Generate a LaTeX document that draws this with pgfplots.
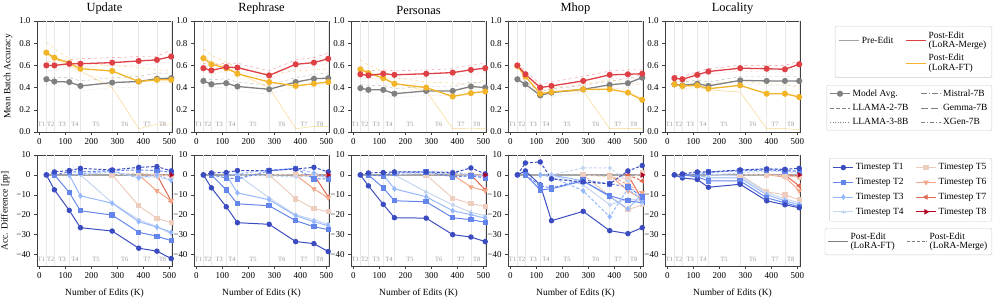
\documentclass[border=0pt]{standalone}
\usepackage{fontspec}
\setmainfont{Liberation Serif}
\usepackage{pgfplots}
\usepackage{pgfplotstable}
\pgfplotsset{compat=1.18}

\definecolor{grayc}{RGB}{128,128,128}
\definecolor{lgrayc}{RGB}{165,165,165}
\definecolor{redc}{RGB}{222,64,70}
\definecolor{yelc}{RGB}{242,180,40}
\definecolor{c1}{RGB}{59,76,192}
\definecolor{c2}{RGB}{100,133,236}
\definecolor{c3}{RGB}{150,184,252}
\definecolor{c4}{RGB}{198,213,240}
\definecolor{c5}{RGB}{237,205,190}
\definecolor{c6}{RGB}{244,166,137}
\definecolor{c7}{RGB}{225,104,83}
\definecolor{c8}{RGB}{180,4,38}

\pgfplotsset{
 panel/.style={scale only axis, width=135bp, xmin=-9, xmax=510, clip=false,
   axis line style={draw=black!75, line width=0.7pt},
   tick align=outside, xtick pos=bottom, ytick pos=left,
   major tick length=3bp, tick style={draw=black!75, line width=0.6pt},
   xtick={0,100,200,300,400,500},
   xticklabels={0,100,200,300,400,500},
   tick label style={font=\fontsize{9}{9}\selectfont},
   label style={font=\fontsize{9.5}{10}\selectfont},
   title style={font=\fontsize{12.5}{13}\selectfont, yshift=-3bp},
   extra x ticks={27,58,115,158,280,382,452,507},
   extra x tick labels={},
   extra x tick style={grid=major, major grid style={draw=black!9, line width=0.8pt}, major tick length=0pt},
 },
 toprow/.style={panel, height=111bp, ymin=0, ymax=1, ytick={0,0.2,0.4,0.6,0.8,1.0},
   yticklabels={0.0,0.2,0.4,0.6,0.8,1.0}},
 botrow/.style={panel, height=111.5bp, ymin=-46, ymax=10, ytick={-40,-30,-20,-10,0,10},
   yticklabels={−40,−30,−20,−10,0,10}, xlabel={Number of Edits (K)}},
 faint/.style={line width=0.45pt, opacity=0.55, no marks},
 main/.style={line width=1.3pt, mark=*, mark size=2.4bp, mark options={solid}},
 T1/.style={color=c1, mark=*, mark options={solid, fill=c1}},
 T2/.style={color=c2, mark=square*, mark options={solid, fill=c2}},
 T3/.style={color=c3, mark=diamond*, mark options={solid, fill=c3}},
 T4/.style={color=c4, mark=+, mark options={solid, line width=1.6pt}},
 T5/.style={color=c5, mark=square*, mark options={solid, fill=c5}},
 T6/.style={color=c6, mark=triangle*, mark options={solid, fill=c6, rotate=180}},
 T7/.style={color=c7, mark=triangle*, mark options={solid, fill=c7, rotate=90}},
 T8/.style={color=c8, mark=triangle*, mark options={solid, fill=c8, rotate=-90}},
 sol/.style={line width=1pt, mark size=2.2bp},
 das/.style={line width=1pt, dash pattern=on 3bp off 1.8bp, mark size=2.2bp},
 legimg/.style={legend image code/.code={\draw[mark repeat=2, mark phase=2, ##1] plot coordinates {(0bp,0bp) (10bp,0bp) (20bp,0bp)};}},
 legax/.style={hide axis, scale only axis, width=5bp, height=5bp, anchor=north east,
   xmin=0, xmax=1, ymin=0, ymax=1, legend columns=2, legend cell align=left, legimg,
   legend style={at={(1,1)}, anchor=north east, draw=black!20, rounded corners=2bp,
     font=\fontsize{9.5}{10.5}\selectfont, inner sep=2.5bp,
     /tikz/every even column/.append style={column sep=10bp}}},
}
\tikzset{tlab/.style={font=\fontsize{6.5}{6.5}\selectfont, text=black!40, inner sep=0pt}}

% ---------- top row tables: x, pre-edit (g), merge (r), ft (o)
\pgfplotstableread{
x   g     g1   g2   r     r1   r2   o     o1   o2   oc
27  0.475 0.50 0.43 0.600 0.63 0.55 0.715 0.81 0.66 0.70
58  0.455 0.49 0.42 0.600 0.64 0.56 0.670 0.75 0.62 0.66
115 0.450 0.49 0.41 0.615 0.65 0.58 0.620 0.66 0.58 0.60
158 0.415 0.46 0.37 0.615 0.66 0.59 0.570 0.62 0.52 0.55
280 0.445 0.49 0.40 0.625 0.67 0.60 0.550 0.60 0.48 0.40
382 0.455 0.50 0.40 0.640 0.68 0.60 0.455 0.58 0.50 0.03
452 0.480 0.53 0.44 0.650 0.68 0.62 0.470 0.56 0.46 0.07
507 0.485 0.53 0.45 0.680 0.74 0.63 0.470 0.55 0.44 0.07
}\tUpd
\pgfplotstableread{
x   g     g1   g2   r     r1   r2   o     o1   o2   oc
27  0.460 0.49 0.42 0.575 0.62 0.54 0.665 0.75 0.62 0.68
58  0.430 0.47 0.40 0.555 0.60 0.52 0.610 0.69 0.57 0.63
115 0.440 0.48 0.40 0.585 0.62 0.55 0.575 0.63 0.53 0.59
158 0.410 0.45 0.37 0.580 0.62 0.55 0.525 0.58 0.49 0.53
280 0.385 0.42 0.34 0.510 0.55 0.48 0.450 0.52 0.42 0.40
382 0.450 0.49 0.41 0.610 0.65 0.57 0.415 0.55 0.40 0.03
452 0.480 0.52 0.44 0.625 0.67 0.59 0.435 0.56 0.42 0.05
507 0.485 0.53 0.45 0.660 0.71 0.62 0.450 0.57 0.43 0.05
}\tReph
\pgfplotstableread{
x   g     g1   g2   r     r1   r2   o     o1   o2   oc
27  0.395 0.43 0.36 0.520 0.56 0.49 0.565 0.65 0.52 0.58
58  0.380 0.42 0.35 0.510 0.55 0.48 0.530 0.60 0.49 0.54
115 0.380 0.42 0.34 0.525 0.56 0.49 0.485 0.55 0.45 0.49
158 0.345 0.39 0.31 0.515 0.55 0.48 0.435 0.49 0.40 0.44
280 0.370 0.41 0.33 0.525 0.56 0.49 0.400 0.45 0.37 0.37
382 0.370 0.41 0.33 0.535 0.57 0.50 0.320 0.44 0.38 0.03
452 0.410 0.45 0.37 0.560 0.60 0.52 0.350 0.43 0.40 0.035
507 0.400 0.44 0.36 0.575 0.62 0.54 0.365 0.47 0.41 0.03
}\tPers
\pgfplotstableread{
x   g     g1   g2   r     r1   r2   o     o1   o2   oc
27  0.475 0.50 0.45 0.600 0.62 0.58 0.595 0.61 0.57 0.60
58  0.430 0.46 0.40 0.520 0.55 0.49 0.500 0.53 0.47 0.50
115 0.330 0.36 0.30 0.400 0.43 0.37 0.345 0.38 0.32 0.35
158 0.355 0.39 0.32 0.415 0.45 0.38 0.360 0.40 0.33 0.36
280 0.385 0.42 0.35 0.460 0.50 0.42 0.385 0.43 0.36 0.37
382 0.425 0.46 0.39 0.515 0.55 0.48 0.385 0.47 0.40 0.03
452 0.440 0.48 0.40 0.520 0.56 0.48 0.355 0.45 0.38 0.03
507 0.490 0.52 0.45 0.525 0.56 0.49 0.290 0.42 0.30 0.03
}\tMhop
\pgfplotstableread{
x   g     g1   g2   r     r1   r2   o     o1   o2   oc
27  0.430 0.46 0.40 0.485 0.51 0.46 0.430 0.46 0.40 0.42
58  0.420 0.45 0.39 0.475 0.50 0.45 0.415 0.45 0.38 0.41
115 0.435 0.47 0.40 0.515 0.54 0.49 0.420 0.45 0.39 0.41
158 0.415 0.45 0.38 0.545 0.57 0.52 0.390 0.43 0.35 0.38
280 0.465 0.50 0.43 0.575 0.60 0.55 0.420 0.46 0.38 0.36
382 0.460 0.50 0.42 0.570 0.60 0.54 0.345 0.43 0.36 0.03
452 0.460 0.50 0.42 0.565 0.60 0.54 0.345 0.43 0.36 0.03
507 0.460 0.50 0.42 0.610 0.64 0.58 0.315 0.40 0.33 0.02
}\tLoc

% ---------- bottom row tables: a = LoRA-FT (solid), b = LoRA-Merge (dashed)
\pgfplotstableread{
x   a1    a2    a3    a4    a5    a6   a7    a8  b1  b2  b3   b4   b5   b6   b7   b8
27  0     nan   nan   nan   nan   nan  nan   nan 0   nan nan  nan  nan  nan  nan  nan
58  -7.5  0     nan   nan   nan   nan  nan   nan 1.5 0   nan  nan  nan  nan  nan  nan
115 -17.8 -8.8  0     nan   nan   nan  nan   nan 2.2 1.5 0    nan  nan  nan  nan  nan
158 -26.5 -18   -10.5 0     nan   nan  nan   nan 3.3 1.5 0.5  0    nan  nan  nan  nan
280 -28.2 -20.2 -14.2 -14   0     nan  nan   nan 2.5 2.2 2    1.5  0    nan  nan  nan
382 -36.8 -28.8 -23.5 -22.5 -15.5 0    nan   nan 3.8 2.5 -1.5 -1   1    0    nan  nan
452 -38.3 -30.8 -26.2 -26   -21.8 -8   0     nan 4.2 2.2 0    -1   0    -0.3 0    nan
507 -42   -33   -28.8 -29.5 -24   -13  -13.2 0   2   1.3 -2.8 -2.5 -0.5 -0.5 -0.3 0
}\bUpd
\pgfplotstableread{
x   a1    a2    a3    a4    a5    a6    a7  a8  b1  b2   b3   b4   b5   b6   b7   b8
27  0     nan   nan   nan   nan   nan   nan nan 0   nan  nan  nan  nan  nan  nan  nan
58  -6.5  0     nan   nan   nan   nan   nan nan 1   0    nan  nan  nan  nan  nan  nan
115 -16   -7.5  0     nan   nan   nan   nan nan 1.2 -1.5 0    nan  nan  nan  nan  nan
158 -24   -14.5 -9    0     nan   nan   nan nan 2.2 -2   0.5  0    nan  nan  nan  nan
280 -24.8 -15.5 -12.5 -11.5 0     nan   nan nan 2.2 2    2.5  -0.5 0    nan  nan  nan
382 -33.5 -23   -20.5 -20   -12   0     nan nan 3   3.3  3.3  -1   0.5  0    nan  nan
452 -34.5 -26   -23.5 -22.5 -17   -7    0   nan 3.8 -2   1    -0.5 -0.5 -0.5 0    nan
507 -38.5 -27.5 -25.5 -24.8 -18.5 -11.5 -11 0   1.5 -2   -1.5 -1   -1   -1   -0.5 0
}\bReph
\pgfplotstableread{
x   a1    a2    a3    a4    a5    a6   a7   a8  b1  b2   b3   b4   b5   b6   b7   b8
27  0     nan   nan   nan   nan   nan  nan  nan 0   nan  nan  nan  nan  nan  nan  nan
58  -5.5  0     nan   nan   nan   nan  nan  nan 1   0    nan  nan  nan  nan  nan  nan
115 -14.8 -6.5  0     nan   nan   nan  nan  nan 1.2 -0.5 0    nan  nan  nan  nan  nan
158 -21.5 -13   -7    0     nan   nan  nan  nan 1.5 0.8  1.5  0    nan  nan  nan  nan
280 -21.7 -13.5 -11   -8.5  0     nan  nan  nan 1.5 1.5  1.5  1    0    nan  nan  nan
382 -30   -21.5 -18   -15   -11.7 0    nan  nan 1   -1   1.5  0.5  1    0    nan  nan
452 -31.2 -22.5 -20   -18.8 -14.5 -6   0    nan 3.5 -0.5 0    -0.5 0    0    0    nan
507 -33.5 -23.8 -21.7 -20.5 -15.8 -8   -7.5 0   0.5 -1.5 -1   0.5  -0.5 -0.5 0    0
}\bPers
\pgfplotstableread{
x   a1    a2    a3    a4    a5    a6   a7    a8  b1   b2   b3   b4    b5   b6   b7   b8
27  0     nan   nan   nan   nan   nan  nan   nan 0    nan  nan  nan   nan  nan  nan  nan
58  2     0     nan   nan   nan   nan  nan   nan 6    0    nan  nan   nan  nan  nan  nan
115 -5    -7.5  0     nan   nan   nan  nan   nan 6.5  -5.5 0    nan   nan  nan  nan  nan
158 -23   -7    0     0     nan   nan  nan   nan -2   -6.5 -1   0     nan  nan  nan  nan
280 -18.3 -3    -3    -5    0     nan  nan   nan -3.5 -2.5 -8   3.5   0    nan  nan  nan
382 -28   -10.5 -11   -15   -10.5 0    nan   nan -4.5 -4.5 -21  3.5   -1   0    nan  nan
452 -29.5 -13   -17   -12   -17.5 -8   0     nan 2    -6   -7   -3    -2   -5   0    nan
507 -26.5 -14   -9.5  -13   -15   -12  -12.5 0   4.7  -11  -13  -14.5 1    -9   -3   0
}\bMhop
\pgfplotstableread{
x   a1    a2    a3    a4    a5    a6   a7    a8  b1   b2   b3   b4   b5   b6   b7   b8
27  0     nan   nan   nan   nan   nan  nan   nan 0    nan  nan  nan  nan  nan  nan  nan
58  -1.5  0     nan   nan   nan   nan  nan   nan 0.5  0    nan  nan  nan  nan  nan  nan
115 -2.3  -1    0     nan   nan   nan  nan   nan 1.5  0.5  0    nan  nan  nan  nan  nan
158 -6.2  -3    -1.5  0     nan   nan  nan   nan 1.5  1.5  1    0    nan  nan  nan  nan
280 -4.7  -3    -1.5  -0.5  0     nan  nan   nan 2.5  2    2.5  1    0    nan  nan  nan
382 -13   -11.5 -10   -9    -8.5  0    nan   nan 3    2.5  3.2  2    0    0    nan  nan
452 -15   -14   -13   -12   -10   -1   0     nan 2.8  2    2.5  1.5  -0.5 -0.5 0    nan
507 -16.5 -16   -15   -14   -12.5 -8   -5.5  0   3.3  2    1.5  1    -1   -1   -0.5 0
}\bLoc

\newcommand{\TopPlots}[1]{%
 \addplot[faint, grayc, dashed] table[x=x,y=g1]{#1};
 \addplot[faint, grayc, dotted] table[x=x,y=g2]{#1};
 \addplot[faint, redc, dashed] table[x=x,y=r1]{#1};
 \addplot[faint, redc, dotted] table[x=x,y=r2]{#1};
 \addplot[faint, yelc, dashed] table[x=x,y=o1]{#1};
 \addplot[faint, yelc, dotted] table[x=x,y=o2]{#1};
 \addplot[faint, yelc] table[x=x,y=oc]{#1};
 \addplot[main, grayc, mark options={fill=grayc}] table[x=x,y=g]{#1};
 \addplot[main, yelc, mark options={fill=yelc}] table[x=x,y=o]{#1};
 \addplot[main, redc, mark options={fill=redc}] table[x=x,y=r]{#1};
 \node[tlab] at (axis cs:8,0.065) {T1};
 \node[tlab] at (axis cs:44,0.065) {T2};
 \node[tlab] at (axis cs:88,0.065) {T3};
 \node[tlab] at (axis cs:137,0.065) {T4};
 \node[tlab] at (axis cs:218,0.065) {T5};
 \node[tlab] at (axis cs:328,0.065) {T6};
 \node[tlab] at (axis cs:414,0.065) {T7};
 \node[tlab] at (axis cs:474,0.065) {T8};
}
\newcommand{\BotPlots}[1]{%
 \addplot[lgrayc, line width=1.6pt, no marks] coordinates {(27,0) (507,0)};
 \addplot[T8, sol] table[x=x,y=a8]{#1};
 \addplot[T7, sol] table[x=x,y=a7]{#1};
 \addplot[T6, sol] table[x=x,y=a6]{#1};
 \addplot[T5, sol] table[x=x,y=a5]{#1};
 \addplot[T4, sol] table[x=x,y=a4]{#1};
 \addplot[T3, sol] table[x=x,y=a3]{#1};
 \addplot[T2, sol] table[x=x,y=a2]{#1};
 \addplot[T1, sol] table[x=x,y=a1]{#1};
 \addplot[T7, das] table[x=x,y=b7]{#1};
 \addplot[T6, das] table[x=x,y=b6]{#1};
 \addplot[T5, das] table[x=x,y=b5]{#1};
 \addplot[T4, das] table[x=x,y=b4]{#1};
 \addplot[T3, das] table[x=x,y=b3]{#1};
 \addplot[T2, das] table[x=x,y=b2]{#1};
 \addplot[T1, das] table[x=x,y=b1]{#1};
 \addplot[T8, das] table[x=x,y=b8]{#1};
 \node[tlab] at (axis cs:8,-42.5) {T1};
 \node[tlab] at (axis cs:44,-42.5) {T2};
 \node[tlab] at (axis cs:88,-42.5) {T3};
 \node[tlab] at (axis cs:137,-42.5) {T4};
 \node[tlab] at (axis cs:218,-42.5) {T5};
 \node[tlab] at (axis cs:328,-42.5) {T6};
 \node[tlab] at (axis cs:414,-42.5) {T7};
 \node[tlab] at (axis cs:474,-42.5) {T8};
}

\begin{document}
\begin{tikzpicture}
\useasboundingbox (0bp,0bp) rectangle (997bp,-299bp);

% ---- top row
\begin{axis}[toprow, at={(37bp,-21bp)}, anchor=north west, title={Update}, ylabel={Mean Batch Accuracy}]
\TopPlots{\tUpd}
\end{axis}
\begin{axis}[toprow, at={(194bp,-21bp)}, anchor=north west, title={Rephrase}]
\TopPlots{\tReph}
\end{axis}
\begin{axis}[toprow, at={(351bp,-21bp)}, anchor=north west, title={Personas}]
\TopPlots{\tPers}
\end{axis}
\begin{axis}[toprow, at={(508bp,-21bp)}, anchor=north west, title={Mhop}]
\TopPlots{\tMhop}
\end{axis}
\begin{axis}[toprow, at={(665bp,-21bp)}, anchor=north west, title={Locality}]
\TopPlots{\tLoc}
\end{axis}

% ---- bottom row
\begin{axis}[botrow, at={(37bp,-155bp)}, anchor=north west, ylabel={Acc. Difference [pp]}]
\BotPlots{\bUpd}
\end{axis}
\begin{axis}[botrow, at={(194bp,-155bp)}, anchor=north west]
\BotPlots{\bReph}
\end{axis}
\begin{axis}[botrow, at={(351bp,-155bp)}, anchor=north west]
\BotPlots{\bPers}
\end{axis}
\begin{axis}[botrow, at={(508bp,-155bp)}, anchor=north west]
\BotPlots{\bMhop}
\end{axis}
\begin{axis}[botrow, at={(665bp,-155bp)}, anchor=north west]
\BotPlots{\bLoc}
\end{axis}

% ---- legends
\begin{axis}[legax, at={(992bp,-26bp)}, legend style={row sep=1bp, inner sep=3.5bp}]
\addlegendimage{lgrayc, line width=1.3pt}
\addlegendentry{Pre-Edit}
\addlegendimage{redc, line width=1.3pt}
\addlegendentry{\shortstack[l]{Post-Edit\\(LoRA-Merge)}}
\addlegendimage{empty legend}
\addlegendentry{}
\addlegendimage{yelc, line width=1.3pt}
\addlegendentry{\shortstack[l]{Post-Edit\\(LoRA-FT)}}
\end{axis}

\begin{axis}[legax, at={(992bp,-85bp)}, legend style={row sep=2.5bp}]
\addlegendimage{grayc, line width=1.3pt, mark=*, mark size=2.4bp, mark options={fill=grayc}}
\addlegendentry{Model Avg.}
\addlegendimage{grayc, line width=0.8pt, dash pattern=on 6bp off 2bp on 1bp off 2bp}
\addlegendentry{Mistral-7B}
\addlegendimage{grayc, line width=0.8pt, dash pattern=on 4bp off 2bp}
\addlegendentry{LLAMA-2-7B}
\addlegendimage{grayc, line width=0.8pt, dash pattern=on 7bp off 3bp}
\addlegendentry{Gemma-7B}
\addlegendimage{grayc, line width=0.8pt, dash pattern=on 1bp off 1.5bp}
\addlegendentry{LLAMA-3-8B}
\addlegendimage{grayc, line width=0.8pt, dash pattern=on 4bp off 2bp on 1bp off 2bp}
\addlegendentry{XGen-7B}
\end{axis}

\begin{axis}[legax, at={(992bp,-158bp)}, legend style={row sep=3bp, inner sep=3.5bp}]
\addlegendimage{T1, sol}\addlegendentry{Timestep T1}
\addlegendimage{T5, sol}\addlegendentry{Timestep T5}
\addlegendimage{T2, sol}\addlegendentry{Timestep T2}
\addlegendimage{T6, sol}\addlegendentry{Timestep T6}
\addlegendimage{T3, sol}\addlegendentry{Timestep T3}
\addlegendimage{T7, sol}\addlegendentry{Timestep T7}
\addlegendimage{T4, sol}\addlegendentry{Timestep T4}
\addlegendimage{T8, sol}\addlegendentry{Timestep T8}
\end{axis}

\begin{axis}[legax, at={(992bp,-228bp)}]
\addlegendimage{grayc, line width=1pt}
\addlegendentry{\shortstack[l]{Post-Edit\\(LoRA-FT)}}
\addlegendimage{grayc, line width=1pt, dash pattern=on 3bp off 1.8bp}
\addlegendentry{\shortstack[l]{Post-Edit\\(LoRA-Merge)}}
\end{axis}
\end{tikzpicture}
\end{document}
